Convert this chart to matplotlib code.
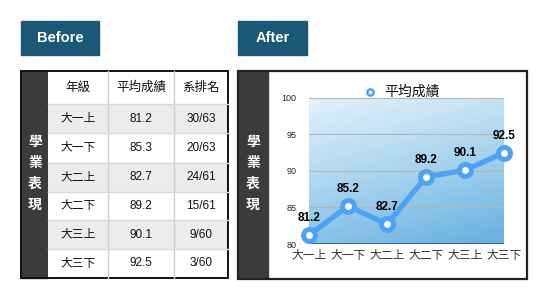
import matplotlib.pyplot as plt
import matplotlib.patches as mpatches
from matplotlib.colors import LinearSegmentedColormap
import numpy as np

plt.rcParams['font.family'] = ['Liberation Sans', 'Noto Sans CJK TC']

# data
terms = ['大一上', '大一下', '大二上', '大二下', '大三上', '大三下']
table_scores = ['81.2', '85.3', '82.7', '89.2', '90.1', '92.5']
ranks = ['30/63', '20/63', '24/61', '15/61', '9/60', '3/60']
headers = ['年級', '平均成績', '系排名']
chart_scores = [81.2, 85.2, 82.7, 89.2, 90.1, 92.5]
side_label = '學業表現'
series_name = '平均成績'

W, H = 554, 293
fig = plt.figure(figsize=(W / 100, H / 100), dpi=100)
bg = fig.add_axes([0, 0, 1, 1])
bg.set_xlim(0, W)
bg.set_ylim(H, 0)
bg.axis('off')

teal = '#1b5876'
dark = '#3b3b3b'

# title boxes
for x0, w, txt in [(21, 78, 'Before'), (238, 69, 'After')]:
    bg.add_patch(mpatches.Rectangle((x0, 21), w, 34, color=teal))
    bg.text(x0 + w / 2, 38, txt, color='white', fontsize=10.5, fontweight='bold',
            ha='center', va='center')

# ---- left table ----
col_x = [48, 108, 174, 228]
row_y = [71, 104, 133, 163, 192, 220, 249, 278]
bg.add_patch(mpatches.Rectangle((21, 71), 27, 207, color=dark))
rows = [headers] + [[t, s, r] for t, s, r in zip(terms, table_scores, ranks)]
for i, row in enumerate(rows):
    y0, y1 = row_y[i], row_y[i + 1]
    fc = '#ececec' if i % 2 == 1 else 'white'
    bg.add_patch(mpatches.Rectangle((col_x[0], y0), col_x[-1] - col_x[0], y1 - y0,
                                    facecolor=fc, edgecolor='none'))
    for j, val in enumerate(row):
        bg.text((col_x[j] + col_x[j + 1]) / 2, (y0 + y1) / 2, val,
                fontsize=9 if i == 0 else 8.5, ha='center', va='center', color='#111111')
for x in col_x[1:-1]:
    bg.plot([x, x], [71, 278], color='#cfcfcf', lw=1)
for y in row_y[1:-1]:
    bg.plot([48, 228], [y, y], color='#d8d8d8', lw=1)
bg.add_patch(mpatches.Rectangle((21, 71), 207, 207, fill=False, edgecolor='#111111', lw=1.4))

# ---- right panel ----
bg.add_patch(mpatches.Rectangle((238, 71), 30, 207, color=dark))
bg.add_patch(mpatches.Rectangle((238, 71), 289, 208, fill=False, edgecolor='#222222', lw=1.6))

for k, ch in enumerate(side_label):
    bg.text(35, 142 + k * 21, ch, color='white', fontsize=10, fontweight='bold',
            ha='center', va='center')
    bg.text(253, 142 + k * 21, ch, color='white', fontsize=10, fontweight='bold',
            ha='center', va='center')

# chart
ax = fig.add_axes([309 / W, 1 - 244 / H, 195 / W, 146 / H])
x = np.arange(len(terms))
ax.set_xlim(0, len(terms) - 1)
ax.set_ylim(80, 100)

# gradient background (light top-left, deeper blue bottom-right)
gx, gy = np.meshgrid(np.linspace(0, 1, 200), np.linspace(0, 1, 200))
grad = 0.75 * gy + 0.25 * gx
cmap = LinearSegmentedColormap.from_list('bg', ['#e4f2fa', '#a8d3ee', '#66b0e0'])
ax.imshow(grad, extent=[0, len(terms) - 1, 80, 100], origin='upper', cmap=cmap,
          aspect='auto', zorder=0)

for v in [85, 90, 95, 100]:
    ax.axhline(v, color='#b5b5b5', lw=0.8, zorder=1)
ax.axhline(80, color='#2e5e85', lw=2, zorder=1)

ax.plot(x, chart_scores, color='#4ea2f6', lw=3.8, marker='o', ms=8.6,
        mfc='white', mec='#4ea2f6', mew=3.6, zorder=3, clip_on=False)
for xi, v in zip(x, chart_scores):
    ax.annotate(f'{v:.1f}', (xi, v), xytext=(0, 8), textcoords='offset points',
                ha='center', va='bottom', fontsize=8.5, fontweight='bold', zorder=4)

ax.set_yticks([80, 85, 90, 95, 100])
ax.set_xticks(x)
ax.set_xticklabels(terms, fontsize=8.5, color='#333333')
ax.tick_params(axis='y', labelsize=6.5, length=0, pad=9, labelcolor='#222222')
ax.tick_params(axis='x', length=0, pad=4)
for s in ax.spines.values():
    s.set_visible(False)

# legend
bg.plot([370], [92], marker='o', ms=4.5, mfc='white', mec='#4ea2f6', mew=1.8)
bg.text(384, 92, series_name, fontsize=10, ha='left', va='center', color='#111111')

fig.savefig('out.png', dpi=100)
